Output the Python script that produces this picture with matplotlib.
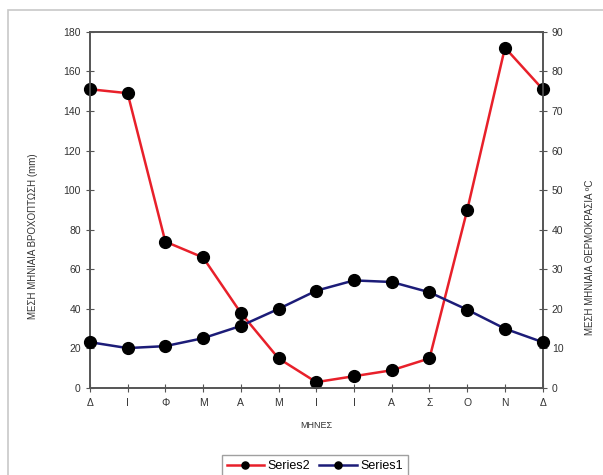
import matplotlib
matplotlib.use("Agg")
import matplotlib.pyplot as plt
from matplotlib.patches import Rectangle

plt.rcParams['font.family'] = ['Liberation Sans', 'DejaVu Sans']

# month initials (Greek), Dec..Dec
months = ['Δ', 'Ι', 'Φ', 'Μ', 'Α', 'Μ', 'Ι', 'Ι', 'Α', 'Σ', 'Ο', 'Ν', 'Δ']
# Series2: mean monthly rainfall (mm), left axis
rain = [151, 149, 74, 66, 38, 15, 3, 6, 9, 15, 90, 172, 151]
# Series1: mean monthly temperature (C), right axis
temp = [11.6, 10.1, 10.6, 12.6, 15.7, 20.0, 24.6, 27.2, 26.8, 24.2, 19.8, 15.0, 11.6]

x = list(range(len(months)))
grey = '#555555'

fig = plt.figure(figsize=(6.03, 4.75), dpi=100)
fig.patches.append(Rectangle((8 / 603, -0.01), 1.0, 1 - 10 / 475 + 0.01,
                             transform=fig.transFigure, fill=False,
                             edgecolor='#c8c8c8', linewidth=1.2))

ax = fig.add_axes([0.149, 0.183, 0.751, 0.750])
ax2 = ax.twinx()

l2, = ax.plot(x, rain, color='#e8202a', linewidth=1.8, marker='o',
              markersize=8.5, markerfacecolor='black', markeredgecolor='black',
              label='Series2', zorder=3, clip_on=False)
l1, = ax2.plot(x, temp, color='#1c1c78', linewidth=1.8, marker='o',
               markersize=8.5, markerfacecolor='black', markeredgecolor='black',
               label='Series1', zorder=3, clip_on=False)

ax.set_xlim(0, 12)
ax.set_ylim(0, 180)
ax2.set_ylim(0, 90)
ax.set_xticks(x)
ax.set_xticklabels(months)
ax.set_yticks(range(0, 181, 20))
ax2.set_yticks(range(0, 91, 10))

for a in (ax, ax2):
    a.tick_params(direction='inout', length=6, width=0.8, colors=grey,
                  labelsize=7.5, labelcolor='#333333')
    for s in a.spines.values():
        s.set_color(grey)
        s.set_linewidth(1.2)
ax.tick_params(axis='x', pad=4)

ax.set_xlabel('ΜΗΝΕΣ', fontsize=6.5, color='#333333')
ax.xaxis.set_label_coords(0.5, -0.093)
ax.set_ylabel('ΜΕΣΗ ΜΗΝΙΑΙΑ ΒΡΟΧΟΠΤΩΣΗ (mm)', fontsize=7, color='#333333')
ax.yaxis.set_label_coords(-0.115, 0.427)
ax2.set_ylabel('ΜΕΣΗ ΜΗΝΙΑΙΑ ΘΕΡΜΟΚΡΑΣΙΑ ºC', fontsize=7, color='#333333')
ax2.yaxis.set_label_coords(1.093, 0.368)

fig.legend([l2, l1], ['Series2', 'Series1'], loc='upper center',
           bbox_to_anchor=(0.522, 1 - 449 / 475), ncol=2, fontsize=9,
           frameon=True, fancybox=False, edgecolor='#888888',
           handlelength=3.0, columnspacing=0.7, handletextpad=0.3,
           borderpad=0.4, markerscale=0.6)

fig.savefig('out.png', dpi=100)
